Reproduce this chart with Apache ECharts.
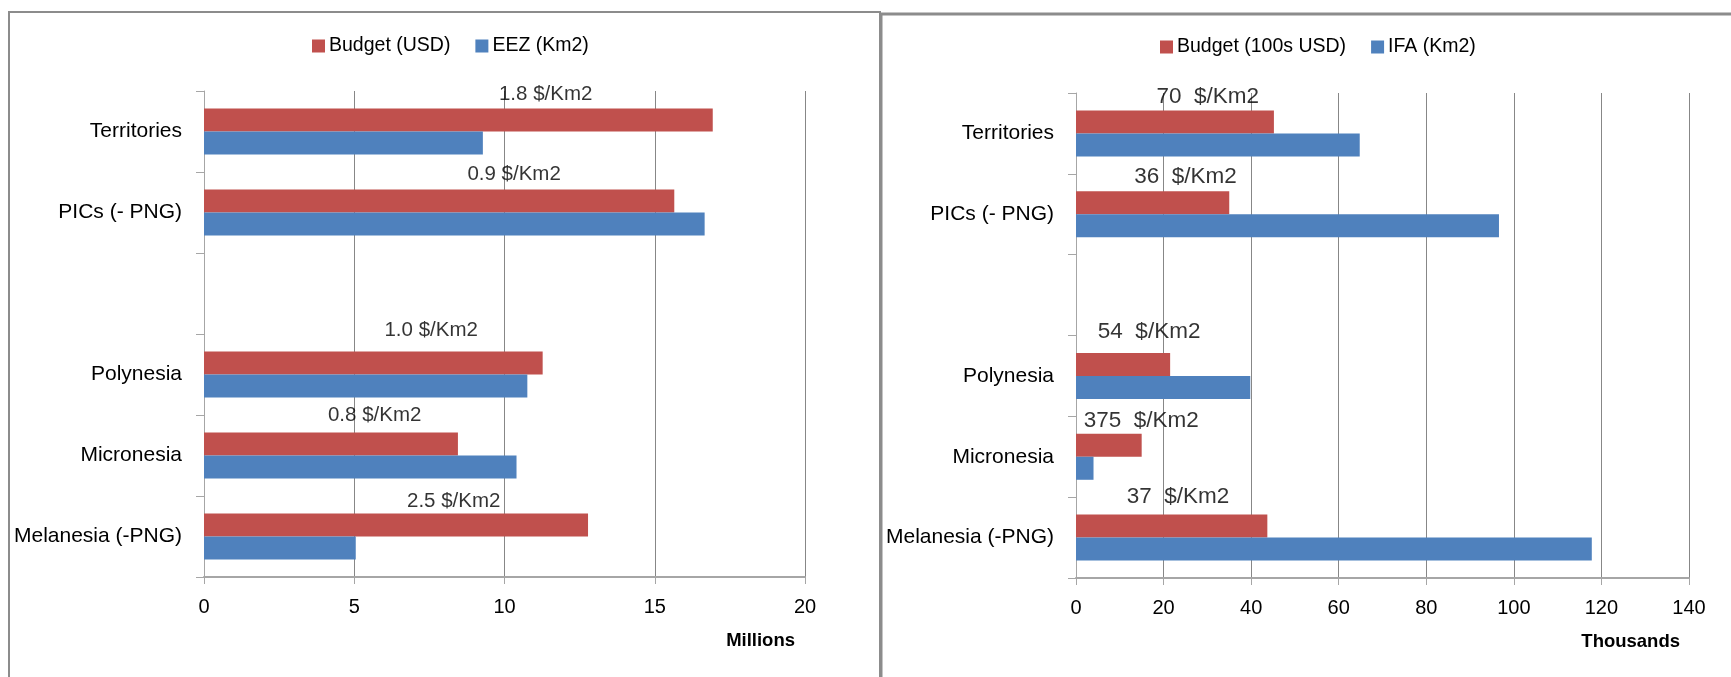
<!DOCTYPE html>
<html>
<head>
<meta charset="utf-8">
<script src="https://cdn.jsdelivr.net/npm/echarts@6/dist/echarts.min.js"></script>
<style>
  html, body { margin: 0; padding: 0; background: #ffffff; }
  #chart { width: 1731px; height: 677px; }
</style>
</head>
<body>
<div id="chart"></div>
<script>
// Regions (an empty slot separates the aggregates from the sub-regions)
const categories = ['Territories', 'PICs (- PNG)', '', 'Polynesia', 'Micronesia', 'Melanesia (-PNG)'];

// Left panel: budget (USD, millions) against EEZ area (km2, millions)
const eezBudget = [16.93, 15.65, null, 11.27, 8.45, 12.78];
const eezArea   = [9.28, 16.66, null, 10.76, 10.40, 5.05];
const eezRate   = ['1.8 $/Km2', '0.9 $/Km2', '', '1.0 $/Km2', '0.8 $/Km2', '2.5 $/Km2'];

// Right panel: budget (100s USD, thousands) against IFA area (km2, thousands)
const ifaBudget = [45.2, 35.0, null, 21.5, 15.0, 43.7];
const ifaArea   = [64.8, 96.6, null, 39.8, 4.0, 117.8];
const ifaRate   = ['70  $/Km2', '36  $/Km2', '', '54  $/Km2', '375  $/Km2', '37  $/Km2'];

// Value-axis ticks
const eezTicks = { min: 0, max: 20, interval: 5 };
const ifaTicks = { min: 0, max: 140, interval: 20 };

// Where each rate note sits: [x in axis units, y in category-band units from the top]
const eezNoteAt = [[11.37, 0.04], [10.32, 1.03], null, [7.56, 2.95], [5.68, 4.01], [8.31, 5.07]];
const ifaNoteAt = [[30.1, 0.05], [25.0, 1.04], null, [16.7, 2.96], [14.9, 4.06], [23.3, 5.0]];

const FONT = '"Liberation Sans", Arial, sans-serif';
const RED = '#C0504D';
const BLUE = '#4F81BD';
const GRID_LINE = '#878787';
const AXIS_LINE = '#a6a6a6';

function valueAxis(gridIndex, ticks, unitName, nameGap) {
  return {
    gridIndex: gridIndex,
    type: 'value',
    position: 'bottom',
    min: ticks.min,
    max: ticks.max,
    interval: ticks.interval,
    axisLine: { show: true, onZero: false, lineStyle: { color: AXIS_LINE, width: 2 } },
    axisTick: { show: true, length: 7, lineStyle: { color: AXIS_LINE, width: 1 } },
    axisLabel: { margin: 20, fontSize: 20, color: '#000', fontFamily: FONT },
    splitLine: { show: true, lineStyle: { color: GRID_LINE, width: 1 } },
    name: unitName,
    nameLocation: 'end',
    nameGap: nameGap,
    nameTextStyle: {
      fontFamily: FONT, fontSize: 18.5, fontWeight: 'bold', color: '#000',
      align: 'right', verticalAlign: 'top', padding: [54, 0, 0, 0]
    }
  };
}

function categoryAxis(gridIndex) {
  return {
    gridIndex: gridIndex,
    type: 'category',
    data: categories,
    inverse: true,
    axisLine: { show: true, onZero: false, lineStyle: { color: AXIS_LINE, width: 1 } },
    axisTick: { show: true, length: 8, lineStyle: { color: AXIS_LINE, width: 1 } },
    axisLabel: { margin: 22, fontSize: 21, color: '#000', fontFamily: FONT },
    splitLine: { show: false }
  };
}

function noteAxis(gridIndex) {
  return {
    gridIndex: gridIndex, type: 'value', min: 0, max: categories.length, inverse: true,
    show: false, axisLine: { onZero: false }, splitLine: { show: false }
  };
}

function barSeries(name, data, color, xi, yi) {
  return {
    type: 'bar', name: name, data: data,
    xAxisIndex: xi, yAxisIndex: yi,
    barGap: '0%', barCategoryGap: '43%',
    itemStyle: { color: color },
    emphasis: { disabled: true },
    animation: false
  };
}

function noteSeries(texts, anchors, fontSize, xi, yi) {
  const items = [];
  texts.forEach(function (t, i) {
    if (t && anchors[i]) items.push({ name: t, value: anchors[i] });
  });
  return {
    type: 'scatter', data: items, xAxisIndex: xi, yAxisIndex: yi,
    symbolSize: 1, itemStyle: { color: 'rgba(0,0,0,0)' },
    silent: true, animation: false, z: 5,
    label: {
      show: true, position: 'inside', formatter: '{b}',
      fontFamily: FONT, fontSize: fontSize, color: '#000'
    }
  };
}

function legend(names, left, top) {
  return {
    data: names, left: left, top: top, padding: 0,
    icon: 'rect', itemWidth: 13, itemHeight: 13, itemGap: 25,
    selectedMode: false,
    textStyle: { fontFamily: FONT, fontSize: 19.5, color: '#000', padding: [0, 0, 0, -1] }
  };
}

const chart = echarts.init(document.getElementById('chart'), null, { renderer: 'canvas' });

chart.setOption({
  backgroundColor: '#ffffff',
  animation: false,
  textStyle: { fontFamily: FONT },
  graphic: [
    { type: 'rect', silent: true, z: -10, shape: { x: 9, y: 12, width: 871, height: 720 },
      style: { fill: null, stroke: '#8c8c8c', lineWidth: 2 } },
    { type: 'rect', silent: true, z: -10, shape: { x: 881, y: 14, width: 900, height: 720 },
      style: { fill: null, stroke: '#8c8c8c', lineWidth: 3 } }
  ],
  legend: [
    legend(['Budget (USD)', 'EEZ (Km2)'], 312, 36),
    legend(['Budget (100s USD)', 'IFA (Km2)'], 1160, 37)
  ],
  grid: [
    { left: 204, top: 91, width: 601, height: 486, containLabel: false },
    { left: 1076, top: 93, width: 613, height: 485, containLabel: false }
  ],
  xAxis: [
    valueAxis(0, eezTicks, 'Millions', -10),
    valueAxis(1, ifaTicks, 'Thousands', -9)
  ],
  yAxis: [
    categoryAxis(0),
    categoryAxis(1),
    noteAxis(0),
    noteAxis(1)
  ],
  series: [
    barSeries('Budget (USD)', eezBudget, RED, 0, 0),
    barSeries('EEZ (Km2)', eezArea, BLUE, 0, 0),
    barSeries('Budget (100s USD)', ifaBudget, RED, 1, 1),
    barSeries('IFA (Km2)', ifaArea, BLUE, 1, 1),
    noteSeries(eezRate, eezNoteAt, 20.5, 0, 2),
    noteSeries(ifaRate, ifaNoteAt, 22.5, 1, 3)
  ]
});
</script>
</body>
</html>
